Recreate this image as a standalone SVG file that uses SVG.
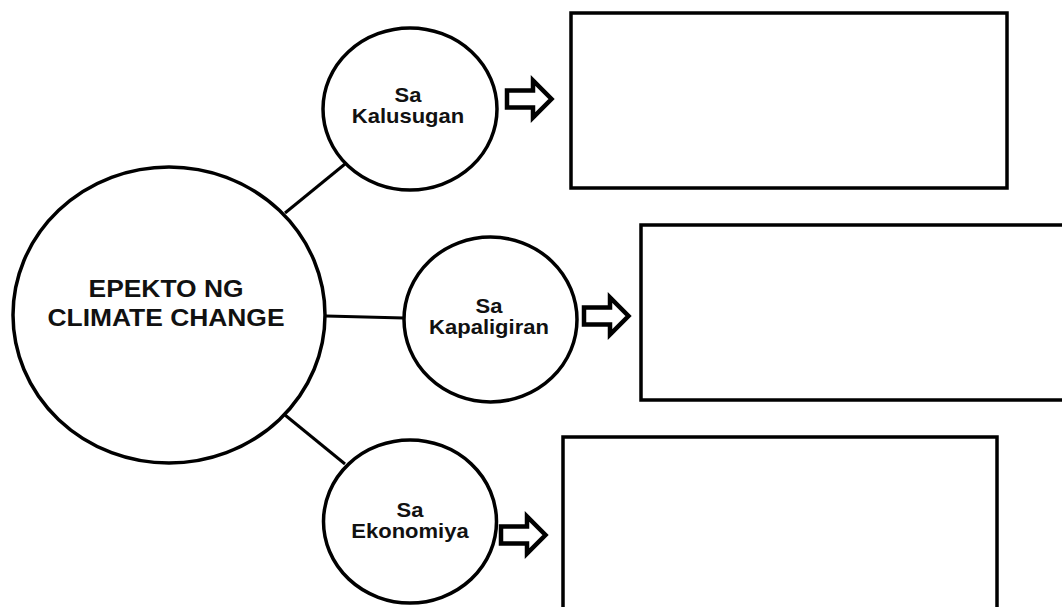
<svg xmlns="http://www.w3.org/2000/svg" width="1062" height="607" viewBox="0 0 1062 607">
<style>
.shape{fill:#fff;stroke:#000;stroke-width:3.5}
.box{fill:#fff;stroke:#000;stroke-width:3.5}
.conn{stroke:#000;stroke-width:3;fill:none}
.arrow{fill:#fff;stroke:#000;stroke-width:4.5;stroke-linejoin:miter}
.big{font-family:"Liberation Sans",Arial,sans-serif;font-weight:bold;font-size:24px;fill:#111;text-anchor:middle}
.small{font-family:"Liberation Sans",Arial,sans-serif;font-weight:bold;font-size:20px;fill:#111;text-anchor:middle}
</style>
<defs>
<polygon id="arr" points="507,90.5 533,90.5 533,80.5 551.5,99 533,117.5 533,107.5 507,107.5"/>
</defs>
<rect width="1062" height="607" fill="#fff"/>
<g id="connectors">
<line class="conn" x1="285" y1="213" x2="345" y2="164"/>
<line class="conn" x1="326" y1="316" x2="404" y2="318"/>
<line class="conn" x1="285" y1="415" x2="345" y2="464"/>
<use href="#arr" class="arrow"/>
<use href="#arr" class="arrow" transform="translate(77,217)"/>
<use href="#arr" class="arrow" transform="translate(-6,436)"/>
</g>
<g id="main">
<ellipse class="shape" cx="169" cy="315" rx="156" ry="148"/>
<g transform="translate(166,0) scale(1.1,1)">
<text class="big" x="0" y="297">EPEKTO NG</text>
<text class="big" x="0" y="326">CLIMATE CHANGE</text>
</g>
</g>
<g id="kalusugan">
<ellipse class="shape" cx="410" cy="109" rx="87" ry="81"/>
<g transform="translate(408,0) scale(1.1,1)">
<text class="small" x="0" y="102">Sa</text>
<text class="small" x="0" y="123">Kalusugan</text>
</g>
</g>
<g id="kapaligiran">
<ellipse class="shape" cx="490.5" cy="319.5" rx="86.5" ry="82.5"/>
<g transform="translate(489,0) scale(1.1,1)">
<text class="small" x="0" y="313">Sa</text>
<text class="small" x="0" y="334">Kapaligiran</text>
</g>
</g>
<g id="ekonomiya">
<ellipse class="shape" cx="410" cy="521.5" rx="86.5" ry="81.5"/>
<g transform="translate(410,0) scale(1.1,1)">
<text class="small" x="0" y="517">Sa</text>
<text class="small" x="0" y="538">Ekonomiya</text>
</g>
</g>
<g id="box1"><rect class="box" x="571" y="13" width="436" height="175"/></g>
<g id="box2"><rect class="box" x="641" y="225" width="440" height="175"/></g>
<g id="box3"><rect class="box" x="563" y="437" width="434" height="190"/></g>
</svg>
